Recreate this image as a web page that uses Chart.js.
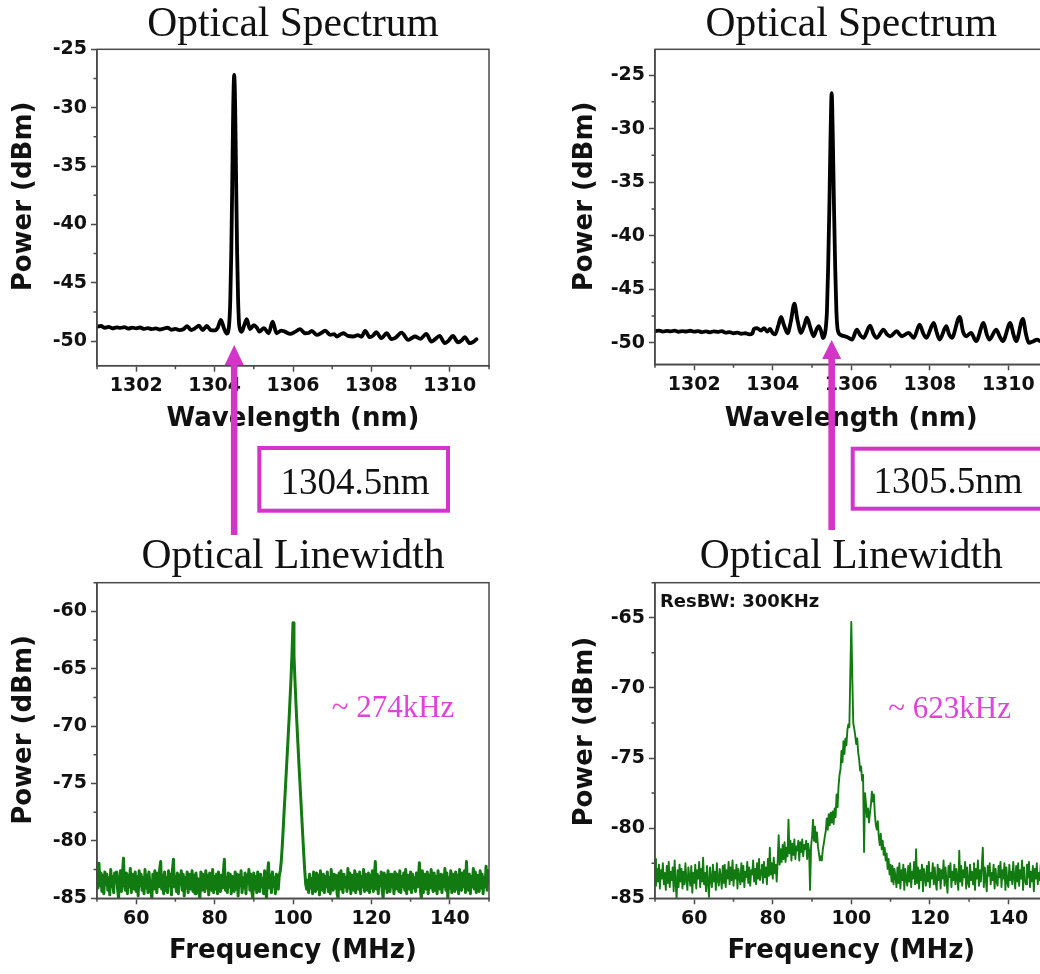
<!DOCTYPE html>
<html>
<head>
<meta charset="utf-8">
<script src="https://cdn.jsdelivr.net/npm/chart.js@4.4.1/dist/chart.umd.min.js"></script>
<style>
  html, body { margin: 0; padding: 0; background: #fff; overflow: hidden; width: 1040px; height: 974px; }
  body { position: relative; }
  canvas { position: absolute; }
</style>
</head>
<body>
<canvas id="specA" width="520" height="545" style="left:0;top:0"></canvas>
<canvas id="specB" width="560" height="545" style="left:520px;top:0"></canvas>
<canvas id="lwA" width="520" height="444" style="left:0;top:530px"></canvas>
<canvas id="lwB" width="560" height="444" style="left:520px;top:530px"></canvas>
<script>
// ---------------- data ----------------
// Optical spectrum, lasing at 1304.5 nm
const specA_nm = [
  1301.0,1301.1,1301.2,1301.3,1301.4,1301.5,1301.6,1301.7,1301.8,1301.9,
  1302.0,1302.1,1302.2,1302.3,1302.4,1302.5,1302.6,1302.7,1302.8,1302.9,
  1303.0,1303.1,1303.2,1303.3,1303.4,1303.5,1303.6,1303.7,1303.8,1303.9,
  1304.0,1304.08,1304.16,1304.24,1304.31,1304.37,1304.40,1304.425,1304.45,1304.475,
  1304.5,1304.525,1304.55,1304.575,1304.60,1304.63,1304.69,1304.76,1304.82,1304.90,
  1305.00,1305.08,1305.14,1305.26,1305.38,1305.48,1305.58,1305.70,1305.80,1305.93,
  1306.05,1306.18,1306.31,1306.40,1306.48,1306.61,1306.72,1306.82,1306.95,1307.05,
  1307.12,1307.20,1307.29,1307.40,1307.54,1307.65,1307.75,1307.84,1307.96,1308.05,
  1308.12,1308.26,1308.39,1308.51,1308.62,1308.77,1308.94,1309.02,1309.11,1309.25,
  1309.40,1309.53,1309.62,1309.74,1309.87,1309.97,1310.08,1310.21,1310.30,1310.38,
  1310.51,1310.60,1310.68
];
const specA_dBm = [
  -48.75,-48.70,-48.85,-48.78,-48.90,-48.82,-48.86,-48.80,-48.92,-48.84,
  -48.90,-48.83,-48.95,-48.88,-48.97,-48.90,-49.00,-48.92,-48.85,-49.02,
  -48.95,-49.05,-48.98,-48.72,-49.05,-48.90,-48.68,-49.05,-48.70,-49.05,
  -49.08,-48.85,-48.18,-48.90,-49.35,-48.60,-46.50,-42.50,-36.50,-30.00,
  -27.20,-30.00,-36.50,-42.50,-46.50,-48.70,-49.20,-48.60,-48.12,-48.97,
  -48.62,-48.85,-49.17,-48.89,-49.32,-48.32,-49.32,-49.09,-49.20,-49.37,
  -49.20,-48.97,-49.32,-49.30,-49.12,-49.46,-49.30,-49.09,-49.46,-49.40,
  -49.60,-49.45,-49.32,-49.55,-49.60,-49.48,-49.62,-49.12,-49.66,-49.50,
  -49.23,-49.74,-49.32,-49.83,-49.70,-49.26,-49.89,-49.75,-49.60,-49.80,
  -49.37,-50.03,-49.85,-49.54,-50.17,-49.95,-49.54,-50.11,-49.95,-49.66,
  -50.17,-50.05,-49.83
];

// Optical spectrum, lasing at 1305.5 nm
const specB_nm = [
  1301.0,1301.1,1301.2,1301.3,1301.4,1301.5,1301.6,1301.7,1301.8,1301.9,
  1302.0,1302.1,1302.2,1302.3,1302.4,1302.5,1302.6,1302.7,1302.8,1302.9,
  1303.0,1303.1,1303.2,1303.3,1303.4,1303.48,1303.52,1303.6,1303.7,1303.78,
  1303.86,1303.93,1304.0,1304.06,1304.14,1304.21,1304.29,1304.38,1304.46,1304.55,
  1304.63,1304.72,1304.80,1304.87,1304.95,1305.04,1305.12,1305.17,1305.23,1305.28,
  1305.34,1305.38,1305.41,1305.44,1305.47,1305.50,1305.53,1305.56,1305.59,1305.62,
  1305.66,1305.75,1305.89,1306.02,1306.14,1306.23,1306.31,1306.48,1306.57,1306.65,
  1306.82,1306.91,1306.99,1307.16,1307.23,1307.29,1307.46,1307.59,1307.74,1307.83,
  1307.91,1308.10,1308.18,1308.25,1308.42,1308.49,1308.56,1308.76,1308.85,1308.93,
  1309.05,1309.18,1309.37,1309.45,1309.52,1309.69,1309.78,1309.86,1310.05,1310.13,
  1310.20,1310.37,1310.45,1310.52,1310.64,1310.73,1310.85,1310.95
];
const specB_dBm = [
  -48.91,-48.85,-48.95,-48.88,-48.93,-48.86,-48.96,-48.90,-48.94,-48.87,
  -48.95,-48.90,-49.00,-48.93,-49.02,-48.92,-48.98,-48.90,-49.05,-49.00,
  -49.10,-49.05,-49.15,-49.10,-49.20,-49.12,-48.70,-48.62,-48.85,-48.62,
  -48.95,-48.70,-49.10,-49.20,-48.40,-47.58,-48.40,-49.10,-48.00,-46.34,
  -47.90,-49.07,-48.40,-47.65,-48.50,-49.38,-48.70,-48.45,-48.90,-49.55,
  -48.90,-47.00,-43.00,-37.50,-31.00,-26.70,-31.00,-37.50,-43.00,-47.00,
  -48.90,-49.30,-49.45,-49.69,-48.76,-49.30,-49.53,-48.39,-49.20,-49.53,
  -48.76,-49.20,-49.38,-48.91,-49.20,-49.38,-49.07,-49.53,-48.29,-49.10,
  -49.53,-48.14,-49.10,-49.69,-48.45,-49.20,-49.53,-47.58,-49.00,-49.38,
  -49.07,-49.84,-48.14,-49.20,-49.69,-48.76,-49.40,-49.84,-48.14,-49.20,
  -49.84,-47.76,-49.20,-50.00,-49.84,-49.70,-49.90,-49.80
];

// Beat-note spectra: 401 samples from 50 MHz to 150 MHz
const sweepStart_MHz = 50;
const sweepStep_MHz = 0.25;

const beatA_dBm = [
  -82.6,-84.1,-81.95,-83.9,-82.8,-84.4,-83.0,-84.6,-82.7,-83.8,
  -82.9,-84.3,-83.2,-84.7,-82.5,-84.0,-83.1,-84.5,-82.8,-83.6,
  -82.7,-84.2,-85.0,-83.3,-82.6,-84.4,-82.9,-81.5,-83.8,-84.3,
  -82.8,-84.6,-83.0,-84.0,-82.4,-84.5,-82.9,-83.7,-84.2,-82.7,
  -84.4,-83.1,-84.8,-82.6,-83.9,-82.9,-84.3,-83.2,-84.6,-82.5,
  -84.1,-83.0,-84.5,-82.7,-83.8,-84.4,-85.0,-82.9,-84.2,-82.6,
  -83.6,-84.5,-82.8,-84.0,-82.4,-81.8,-84.2,-83.0,-84.6,-82.7,
  -84.3,-83.2,-84.5,-82.6,-83.9,-82.9,-84.7,-82.5,-81.6,-84.0,
  -83.1,-84.4,-82.8,-84.6,-83.0,-83.8,-82.6,-84.3,-82.9,-84.8,
  -83.2,-84.1,-82.7,-84.5,-82.9,-83.7,-84.2,-82.6,-84.4,-83.0,
  -84.6,-82.8,-84.0,-83.3,-84.5,-85.0,-82.7,-84.3,-82.9,-83.8,
  -84.4,-82.6,-84.1,-83.0,-84.7,-82.8,-83.9,-84.3,-82.5,-84.5,
  -83.1,-84.2,-82.9,-84.6,-82.7,-83.8,-84.4,-83.0,-84.1,-82.6,
  -81.6,-84.3,-83.2,-84.5,-82.8,-84.0,-82.9,-84.6,-83.1,-83.7,
  -84.4,-82.7,-84.2,-82.9,-84.8,-83.0,-83.9,-82.6,-84.5,-83.2,
  -84.1,-82.8,-84.6,-83.0,-83.7,-82.5,-84.3,-82.9,-84.4,-85.0,
  -82.8,-84.2,-83.1,-84.5,-82.7,-83.9,-84.4,-82.9,-84.0,-83.3,
  -84.6,-82.6,-84.2,-85.0,-82.8,-81.9,-84.1,-83.0,-84.5,-82.7,
  -84.0,-83.2,-84.6,-82.9,
  -83.6,-84.2,-83.0,-82.6,-81.8,-80.5,-79.0,-77.3,-75.8,-74.2,
  -72.6,-71.0,-69.4,-67.6,-65.8,-63.6,-61.0,-63.8,-66.0,-68.0,
  -69.8,-71.5,-73.2,-74.8,-76.4,-78.0,-79.6,-81.2,-82.6,-83.8,
  -84.2,-83.4,
  -84.5,-82.9,-84.1,-83.3,-84.6,-82.7,-83.8,-84.4,-82.8,-84.2,
  -83.0,-84.7,-82.6,-83.9,-84.3,-82.9,-84.5,-83.1,-84.0,-82.7,
  -84.4,-83.2,-84.6,-82.5,-83.8,-84.3,-82.9,-84.1,-83.0,-84.6,
  -85.0,-82.8,-84.2,-82.6,-83.9,-84.5,-82.9,-84.0,-83.2,-84.4,
  -82.4,-84.1,-82.8,-84.6,-83.0,-83.7,-84.3,-82.6,-84.5,-82.9,
  -83.8,-84.2,-82.7,-84.6,-83.1,-84.0,-82.5,-84.4,-82.9,-83.6,
  -84.3,-82.8,-84.5,-83.0,-84.1,-82.6,-84.4,-83.2,-81.8,-84.2,
  -82.9,-84.6,-83.1,-83.9,-82.7,-84.3,-85.0,-82.8,-84.1,-83.0,
  -84.5,-82.6,-83.8,-84.4,-82.9,-84.0,-83.3,-84.6,-82.7,-84.2,
  -82.9,-83.7,-84.4,-82.6,-84.5,-83.1,-84.0,-82.8,-84.3,-82.5,
  -84.6,-83.0,-83.9,-84.2,-82.7,-84.5,-82.9,-84.1,-83.2,-84.4,
  -82.8,-84.0,-83.1,-81.9,-84.3,-85.0,-82.6,-84.5,-82.9,-83.8,
  -84.2,-82.7,-84.6,-83.0,-84.1,-82.5,-83.9,-84.4,-82.8,-84.3,
  -83.1,-84.6,-82.6,-83.8,-84.2,-82.9,-84.5,-83.0,-84.0,-82.4,
  -84.3,-82.8,-85.0,-83.2,-84.1,-82.6,-84.5,-82.9,-83.7,-84.4,
  -82.7,-84.2,-83.0,-84.6,-82.5,-83.9,-84.3,-82.8,-84.0,-82.6,
  -84.5,-81.8,-83.8,-84.3,-82.9,-84.6,-83.1,-84.0,-82.4,-84.2,
  -82.7,-84.5,-83.0,-83.8,-84.4,-82.6,-84.1,-82.9,-84.6,-83.2,
  -84.0,-82.2,-84.3,-82.6,-83.5
];

const beatB_dBm = [
  -82.2,-84.1,-82.9,-83.8,-82.6,-84.3,-83.0,-83.6,-82.5,-84.0,
  -83.2,-84.4,-82.7,-83.9,-82.4,-84.2,-83.1,-83.7,-82.8,-84.5,
  -82.3,-83.9,-85.0,-83.0,-84.2,-82.6,-83.8,-82.9,-84.3,-83.1,
  -84.0,-82.5,-83.7,-84.4,-82.8,-83.5,-84.1,-82.7,-84.6,-83.2,
  -83.9,-82.6,-84.3,-83.0,-83.6,-82.4,-84.2,-82.9,-83.8,-82.1,
  -84.0,-83.2,-84.5,-82.7,-83.9,-84.9,-82.8,-83.6,-84.2,-82.6,
  -83.8,-83.1,-84.4,-82.5,-83.7,-84.1,-82.9,-83.5,-84.3,-82.7,
  -83.9,-82.6,-84.2,-83.0,-83.6,-82.4,-84.0,-82.8,-83.7,-82.3,
  -84.1,-83.0,-83.6,-82.6,-84.3,-82.9,-83.5,-84.0,-82.5,-83.8,
  -82.7,-84.2,-83.1,-83.5,-82.4,-83.9,-82.8,-84.1,-83.0,-83.3,
  -82.3,-83.8,-82.9,-84.0,-82.5,-83.6,-82.2,-83.7,-83.0,-82.6,
  -83.9,-82.4,-83.5,-82.8,-84.0,-82.2,-83.4,-81.4,-83.3,-82.5,
  -83.6,-82.1,-83.2,-82.6,-83.8,-82.3,-80.5,-82.6,-81.5,-82.4,
  -81.2,-82.2,-81.0,-82.4,-81.4,-82.0,-79.4,-81.8,-80.9,-82.3,
  -81.1,-81.9,-80.8,-82.2,-81.3,-81.6,-80.9,-82.3,-81.0,-81.7,
  -80.8,-82.0,-81.2,-81.5,-80.9,-82.2,-81.1,-81.6,-84.4,-81.3,
  -80.6,-79.4,-80.9,-79.9,-81.0,-80.3,-81.3,-81.8,-82.3,-82.0,
  -82.3,-81.5,-81.1,-80.6,-80.2,-79.3,-80.1,-79.0,-79.8,-78.9,
  -79.6,-78.8,-79.7,-78.6,-79.2,-77.6,-78.5,-77.0,-76.2,-75.8,
  -74.5,-75.3,-73.8,-74.7,-73.6,-74.1,-73.0,-72.6,-72.8,-69.0,
  -65.3,
  -69.2,-72.5,-72.9,-73.4,-74.0,-73.6,-74.6,-75.1,-75.9,
  -75.6,-76.6,-76.2,-81.7,-77.5,-78.3,-79.2,-78.6,-79.6,-78.9,
  -78.3,-77.4,-78.1,-77.6,-79.0,-79.8,-80.1,-79.5,-80.6,-81.2,
  -80.4,-81.5,-80.9,-81.9,-81.4,-82.3,-81.8,-82.9,-82.2,-83.3,
  -82.6,-83.8,-82.7,-84.0,-82.9,-83.5,-84.2,-82.8,-83.9,-82.5,
  -84.3,-83.0,-83.7,-82.6,-84.4,-82.9,-83.6,-84.1,-82.7,-83.8,
  -82.5,-84.2,-83.1,-83.6,-82.4,-84.0,-81.5,-83.9,-82.8,-84.3,
  -83.0,-83.7,-82.6,-84.5,-82.9,-83.5,-84.1,-82.7,-83.8,-82.4,
  -84.2,-83.2,-83.6,-82.5,-84.0,-82.8,-83.9,-84.4,-82.6,-83.7,
  -82.9,-84.3,-83.0,-83.6,-82.3,-84.1,-82.8,-83.8,-84.6,-82.7,
  -83.5,-82.5,-84.2,-83.1,-83.7,-82.6,-84.0,-82.9,-83.6,-84.4,
  -81.6,-83.8,-82.7,-84.1,-83.0,-83.5,-82.4,-84.3,-82.8,-83.9,
  -84.2,-82.6,-83.7,-83.1,-84.0,-82.5,-84.4,-82.9,-83.6,-82.3,
  -84.1,-83.0,-83.8,-82.6,-81.4,-84.2,-82.8,-83.6,-84.5,-82.7,
  -83.4,-82.5,-84.0,-83.2,-83.7,-82.6,-84.3,-82.9,-83.8,-84.1,
  -82.7,-83.5,-82.4,-84.2,-83.0,-83.6,-82.5,-84.4,-82.8,-83.9,
  -84.2,-82.6,-83.7,-83.1,-84.0,-82.4,-83.5,-84.3,-82.7,-83.8,
  -82.5,-84.1,-83.0,-83.6,-82.3,-84.4,-82.8,-83.7,-84.0,-82.6,
  -83.5,-82.4,-84.2,-83.1,-83.8,-82.7,-84.5,-82.9,-83.6,-82.5,
  -84.0,-83.2,-83.7,-82.6,-84.3,-82.8,-83.5,-84.1,-82.7,-83.6,
  -83.3
];

// Lasing wavelengths and measured linewidths
const lasingPeaks_nm = [1304.5, 1305.5];
const linewidthNotes = ['~ 274kHz', '~ 623kHz'];
const resolutionNote = 'ResBW: 300KHz';

// Axis ticks
const specTicks_nm = [1302, 1304, 1306, 1308, 1310];
const specMinor_nm = [1301, 1303, 1305, 1307, 1309, 1311];
const specTicks_dBm = [-50, -45, -40, -35, -30, -25];
const specMinor_dBm = [-47.5, -42.5, -37.5, -32.5, -27.5];
const freqTicks_MHz = [60, 80, 100, 120, 140];
const freqMinor_MHz = [50, 70, 90, 110, 130, 150];
const beatTicksA_dBm = [-85, -80, -75, -70, -65, -60];
const beatMinorA_dBm = [-82.5, -77.5, -72.5, -67.5, -62.5, -57.5];
const beatTicksB_dBm = [-85, -80, -75, -70, -65];
const beatMinorB_dBm = [-82.5, -77.5, -72.5, -67.5, -62.5];

// ---------------- drawing ----------------
const SANS = "'DejaVu Sans', 'Liberation Sans', sans-serif";
const SERIF = "'Liberation Serif', 'Times New Roman', serif";
const AXIS = '#4a4a4a';
const INK = '#111111';
const MAGENTA = '#d435c9';
const NOTE_PINK = '#e043d9';
const TRACE_GREEN = '#117a11';

function pairs(xs, ys) { return xs.map((x, i) => ({ x, y: ys[i] })); }
function sweep(ys) { return ys.map((y, i) => ({ x: sweepStart_MHz + i * sweepStep_MHz, y })); }

function decorations(p) {
  return {
    id: 'decor_' + p.id,
    afterDraw(chart) {
      const { ctx, chartArea: a, scales: { x, y } } = chart;
      ctx.save();
      // frame
      ctx.strokeStyle = AXIS;
      ctx.lineWidth = 1.5;
      ctx.strokeRect(a.left, a.top, a.right - a.left, a.bottom - a.top);
      // minor ticks
      ctx.beginPath();
      p.xMinor.forEach(v => { const px = x.getPixelForValue(v); ctx.moveTo(px, a.bottom); ctx.lineTo(px, a.bottom + 3.5); });
      p.yMinor.forEach(v => { const py = y.getPixelForValue(v); ctx.moveTo(a.left, py); ctx.lineTo(a.left - 3.5, py); });
      ctx.stroke();

      // panel title
      ctx.fillStyle = INK;
      ctx.font = '41.5px ' + SERIF;
      ctx.textAlign = 'center';
      ctx.textBaseline = 'alphabetic';
      ctx.fillText(p.title, (a.left + a.right) / 2, p.titleBase);

      // vertical axis title
      ctx.save();
      ctx.translate(p.yTitle.x, p.yTitle.y);
      ctx.rotate(-Math.PI / 2);
      ctx.font = 'bold 26px ' + SANS;
      ctx.textBaseline = 'middle';
      ctx.fillText('Power (dBm)', 0, 0);
      ctx.restore();

      if (p.marker) {
        const m = p.marker;
        const px = x.getPixelForValue(m.nm);
        ctx.fillStyle = MAGENTA;
        ctx.fillRect(px - 3.3, m.tip + m.head - 1, 6.6, m.bottom - m.tip - m.head + 1);
        ctx.beginPath();
        ctx.moveTo(px, m.tip);
        ctx.lineTo(px + 9.5, m.tip + m.head);
        ctx.lineTo(px - 9.5, m.tip + m.head);
        ctx.closePath();
        ctx.fill();
        const b = m.box;
        ctx.strokeStyle = MAGENTA;
        ctx.lineWidth = 4;
        ctx.strokeRect(b.x, b.y, b.w, b.h);
        ctx.fillStyle = INK;
        ctx.font = '37px ' + SERIF;
        ctx.textAlign = 'center';
        ctx.textBaseline = 'alphabetic';
        ctx.fillText(m.label, b.tx, b.base);
      }
      if (p.note) {
        ctx.fillStyle = NOTE_PINK;
        ctx.font = '31px ' + SERIF;
        ctx.textAlign = 'left';
        ctx.textBaseline = 'alphabetic';
        ctx.fillText(p.note.text, p.note.x, p.note.base);
      }
      if (p.corner) {
        ctx.fillStyle = INK;
        ctx.font = 'bold 18px ' + SANS;
        ctx.textAlign = 'left';
        ctx.textBaseline = 'alphabetic';
        ctx.fillText(p.corner.text, p.corner.x, p.corner.base);
      }
      ctx.restore();
    }
  };
}

function panel(p) {
  const canvas = document.getElementById(p.id);
  const W = canvas.width, H = canvas.height;
  const a = p.area;
  const tickFont = { family: SANS, size: 19, weight: 'bold' };
  return new Chart(canvas, {
    type: 'line',
    data: {
      datasets: [{
        data: p.points,
        borderColor: p.color,
        borderWidth: p.width,
        pointRadius: 0,
        fill: false,
        cubicInterpolationMode: p.smooth ? 'monotone' : 'default',
        tension: p.smooth ? 0.4 : 0,
        borderJoinStyle: 'round',
        borderCapStyle: 'round'
      }]
    },
    options: {
      responsive: false,
      animation: false,
      events: [],
      layout: { padding: { left: 0, top: a.t, right: W - a.r, bottom: H - a.b - p.xh } },
      plugins: { legend: { display: false }, tooltip: { enabled: false }, title: { display: false } },
      scales: {
        x: {
          type: 'linear', min: p.xMin, max: p.xMax,
          afterBuildTicks: s => { s.ticks = p.xTicks.map(v => ({ value: v })); },
          afterFit: s => { s.height = p.xh; },
          grid: { drawOnChartArea: false, drawTicks: true, tickLength: 6, tickColor: AXIS, tickWidth: 1.5 },
          border: { display: true, color: AXIS, width: 1.5 },
          ticks: { font: tickFont, color: INK, padding: 3, maxRotation: 0, autoSkip: false, callback: v => String(v) },
          title: { display: true, text: p.xTitle, color: INK, padding: { top: 0, bottom: 0 },
                   font: { family: SANS, size: 26, weight: 'bold', lineHeight: 1.2 } }
        },
        y: {
          type: 'linear', min: p.yMin, max: p.yMax,
          afterBuildTicks: s => { s.ticks = p.yTicks.map(v => ({ value: v })); },
          afterFit: s => { s.width = a.l; },
          grid: { drawOnChartArea: false, drawTicks: true, tickLength: 6, tickColor: AXIS, tickWidth: 1.5 },
          border: { display: true, color: AXIS, width: 1.5 },
          ticks: { font: tickFont, color: INK, padding: 4, autoSkip: false, callback: v => String(v) },
          title: { display: false }
        }
      }
    },
    plugins: [decorations(p)]
  });
}

panel({
  id: 'specA', points: pairs(specA_nm, specA_dBm), color: '#000', width: 3.8, smooth: true,
  area: { l: 97, t: 49.3, r: 489, b: 365.7 }, xh: 68.9,
  xMin: 1301, xMax: 1311, yMin: -52.1, yMax: -25,
  xTicks: specTicks_nm, xMinor: specMinor_nm, yTicks: specTicks_dBm, yMinor: specMinor_dBm,
  xTitle: 'Wavelength (nm)', title: 'Optical Spectrum', titleBase: 36,
  yTitle: { x: 24, y: 196.5 },
  marker: { nm: lasingPeaks_nm[0], tip: 345, head: 20, bottom: 535, label: lasingPeaks_nm[0] + 'nm',
            box: { x: 259.3, y: 448, w: 188.7, h: 62.7, tx: 355, base: 494 } }
});

panel({
  id: 'specB', points: pairs(specB_nm, specB_dBm), color: '#000', width: 3.8, smooth: true,
  area: { l: 135, t: 49.3, r: 527.6, b: 364.3 }, xh: 70.3,
  xMin: 1301, xMax: 1311, yMin: -52, yMax: -22.6,
  xTicks: specTicks_nm, xMinor: specMinor_nm, yTicks: specTicks_dBm, yMinor: specMinor_dBm,
  xTitle: 'Wavelength (nm)', title: 'Optical Spectrum', titleBase: 36,
  yTitle: { x: 65, y: 196.5 },
  marker: { nm: lasingPeaks_nm[1], tip: 340, head: 19, bottom: 530, label: lasingPeaks_nm[1] + 'nm',
            box: { x: 332.7, y: 448.7, w: 190.6, h: 60, tx: 428, base: 492.7 } }
});

panel({
  id: 'lwA', points: sweep(beatA_dBm), color: TRACE_GREEN, width: 3.0, smooth: false,
  area: { l: 97, t: 52.7, r: 489, b: 368.3 }, xh: 68.3,
  xMin: 50, xMax: 150, yMin: -85, yMax: -57.5,
  xTicks: freqTicks_MHz, xMinor: freqMinor_MHz, yTicks: beatTicksA_dBm, yMinor: beatMinorA_dBm,
  xTitle: 'Frequency (MHz)', title: 'Optical Linewidth', titleBase: 38.3,
  yTitle: { x: 24, y: 200 },
  note: { text: linewidthNotes[0], x: 331.7, base: 186.7 }
});

panel({
  id: 'lwB', points: sweep(beatB_dBm), color: TRACE_GREEN, width: 1.9, smooth: false,
  area: { l: 135, t: 52.7, r: 527.6, b: 368.3 }, xh: 68.3,
  xMin: 50, xMax: 150, yMin: -85, yMax: -62.5,
  xTicks: freqTicks_MHz, xMinor: freqMinor_MHz, yTicks: beatTicksB_dBm, yMinor: beatMinorB_dBm,
  xTitle: 'Frequency (MHz)', title: 'Optical Linewidth', titleBase: 38.3,
  yTitle: { x: 65, y: 201.7 },
  note: { text: linewidthNotes[1], x: 368.3, base: 188.3 },
  corner: { text: resolutionNote, x: 140, base: 76.7 }
});
</script>
</body>
</html>
